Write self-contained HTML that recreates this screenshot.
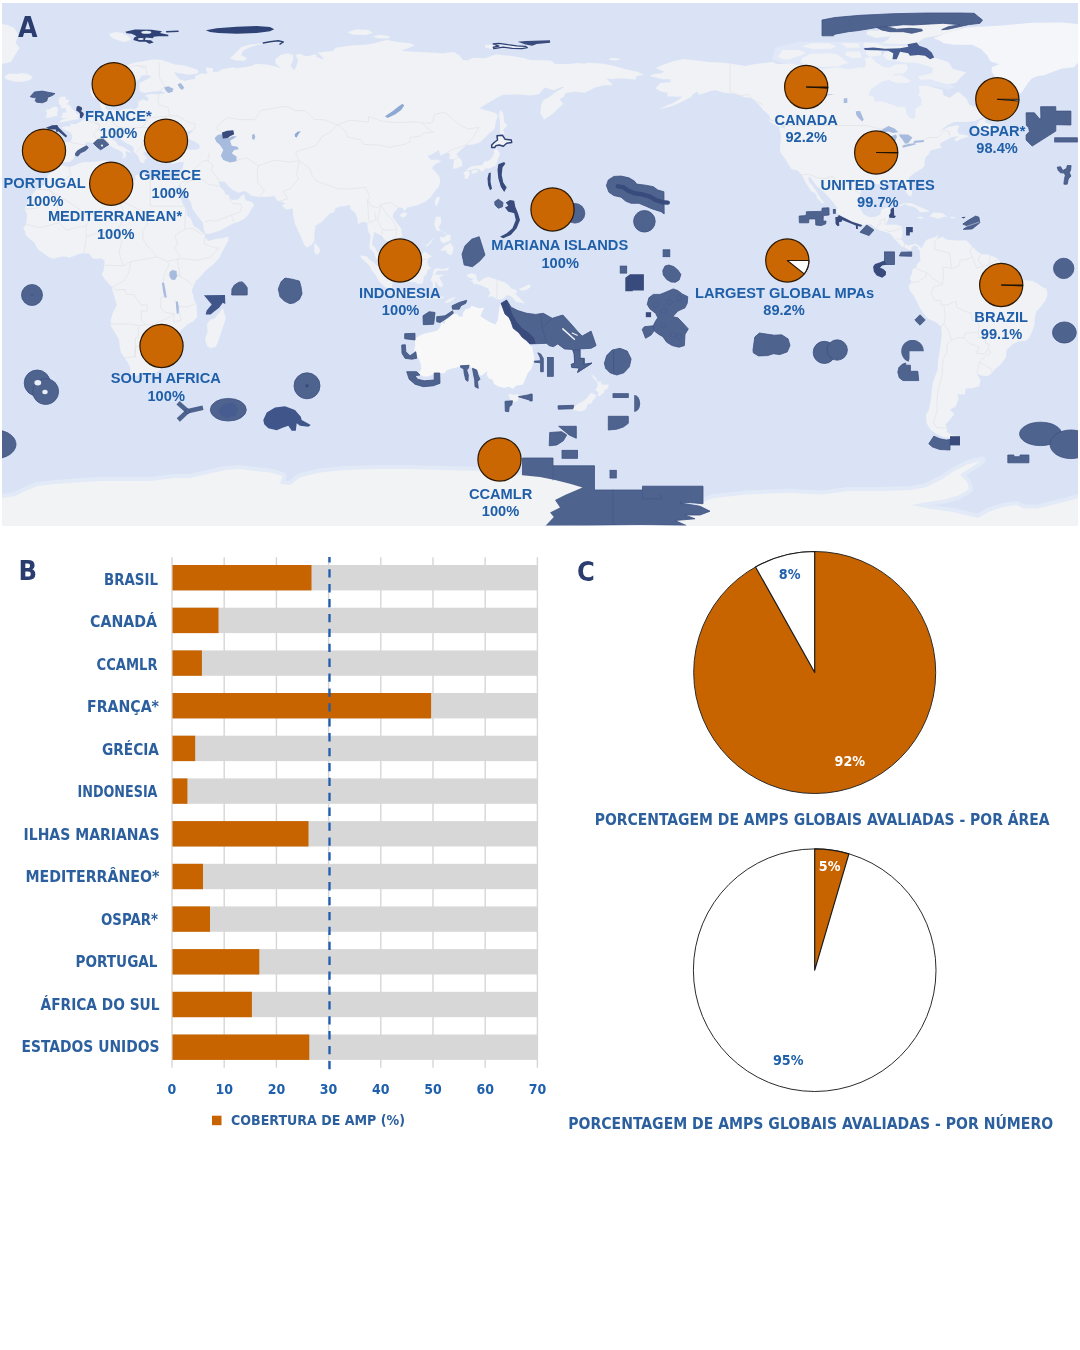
<!DOCTYPE html>
<html lang="pt"><head><meta charset="utf-8"><title>AMP</title>
<style>html,body{margin:0;padding:0;background:#fff}body{width:1080px;height:1350px;overflow:hidden;position:relative}svg{position:absolute;left:0;top:0;display:block}.ml{font-family:"Liberation Sans",Arial,sans-serif;font-weight:700;font-size:14.65px;fill:#1f5fa9;text-anchor:middle}.cl{font-family:"DejaVu Sans Condensed","Liberation Sans",sans-serif;font-weight:700;fill:#2c5f9e}</style></head><body>
<svg width="1080" height="1350" viewBox="0 0 1080 1350">
<defs><clipPath id="mc"><rect x="2" y="3" width="1076" height="522.5"/></clipPath><filter id="bl" x="-2%" y="-2%" width="104%" height="104%"><feGaussianBlur stdDeviation="0.7"/></filter></defs>
<rect x="0" y="0" width="1080" height="1350" fill="#fff"/>
<g clip-path="url(#mc)">
<rect x="0" y="0" width="1080" height="530" fill="#d9e3f5"/>
<g filter="url(#bl)">
<path d="M866.1 92.7L870.6 100.1L882.6 104.6L897.5 109.1L905.0 110.6L905.0 119.6L915.4 121.1L918.4 113.6L924.4 104.6L924.4 95.6L921.4 85.2L936.4 86.7L948.3 89.7L954.3 86.7L942.3 80.7L927.4 77.7L936.4 68.7L921.4 61.3L888.5 59.8L876.6 49.3L912.4 50.2L915.4 43.3L888.5 41.8L852.7 41.8L798.9 41.8L775.0 47.8L772.0 59.8L792.9 65.8L822.8 70.2L852.7 71.7L873.6 71.7L888.5 77.7L873.6 83.7Z" fill="#e1e8f7"/>
<path d="M933.4 38.3L948.3 32.3L966.3 27.5L1002.1 25.4L1032.0 22.7L1061.9 22.4L1078.0 23.9L1078.0 62.8L1073.9 67.3L1061.9 68.4L1052.9 71.7L1044.0 75.3L1038.0 75.9L1032.0 78.3L1027.5 83.7L1023.6 89.7L1021.5 92.7L1017.1 92.7L1011.1 90.3L1005.1 87.3L1000.6 82.2L996.1 77.7L991.7 72.3L991.7 67.3L999.1 64.3L990.2 61.3L987.2 55.3L981.2 49.3L972.2 44.8L954.3 44.8L943.8 43.3L939.4 40.4Z" fill="#f5f6f9"/>
<path d="M152.6 59.5L160.7 59.8L168.2 61.9L174.2 64.6L183.1 65.2L196.6 69.3L199.0 71.7L196.6 73.8L189.1 74.7L180.1 73.2L174.2 72.3L175.7 74.7L179.5 79.2L184.6 81.0L189.1 79.8L195.1 78.9L195.1 75.9L201.1 73.5L207.6 73.8L206.4 70.8L205.6 67.3L213.0 68.2L213.0 71.7L217.5 72.0L222.0 69.3L233.9 67.3L236.9 68.2L245.9 67.0L251.9 65.8L256.4 63.7L266.8 64.6L275.8 66.4L281.2 68.2L275.8 64.0L275.2 59.8L280.3 55.0L287.7 53.2L293.1 55.0L293.1 59.8L290.7 65.8L293.7 70.2L296.1 67.3L298.2 59.8L295.2 55.3L299.7 53.8L305.7 56.2L308.7 55.9L316.1 54.1L316.7 56.8L323.6 59.8L322.1 56.8L317.6 52.6L332.6 51.1L335.6 47.8L350.5 45.4L365.5 44.8L374.4 43.3L387.3 39.8L395.4 41.8L410.3 43.3L414.8 45.4L401.3 50.8L410.3 51.4L428.2 52.6L443.2 53.2L453.6 52.0L459.6 55.3L462.6 59.8L467.1 60.4L473.1 57.7L485.0 58.3L494.0 55.0L497.0 54.4L511.9 55.9L523.9 58.0L529.9 60.1L550.8 60.4L555.3 64.0L568.7 64.0L577.7 63.1L585.2 63.7L586.6 62.8L601.6 63.4L613.5 65.8L625.5 69.3L637.5 71.7L644.0 74.7L636.0 76.2L636.0 79.5L621.0 78.3L610.6 79.2L606.1 78.6L612.1 83.7L612.1 85.2L604.6 85.2L595.6 87.3L585.2 92.7L574.7 91.8L565.7 93.0L563.6 97.1L559.7 99.2L563.3 104.0L559.1 107.6L553.8 113.0L549.0 116.6L543.9 119.6L540.3 113.6L541.2 104.6L543.3 100.1L549.3 97.1L556.8 91.2L564.2 87.3L562.1 86.7L553.8 90.3L544.8 87.6L538.8 94.2L529.9 95.6L519.4 94.5L503.0 94.8L495.5 98.6L488.0 103.1L479.6 108.2L486.5 110.6L489.5 111.2L495.5 113.0L497.9 115.7L495.5 122.6L494.9 128.5L488.0 134.5L480.5 142.0L473.1 144.4L466.5 145.0L463.2 148.0L458.1 152.4L456.6 154.5L462.3 161.4L462.0 165.9L456.6 168.3L453.0 168.9L453.6 162.9L454.5 159.3L449.2 159.0L450.1 153.9L447.1 152.7L440.2 155.4L438.7 150.0L431.2 154.8L427.3 156.0L431.2 159.9L437.2 159.6L441.7 161.4L435.7 163.8L431.8 168.0L435.7 171.9L439.6 176.9L440.2 182.3L438.7 186.8L434.2 191.9L431.2 196.7L425.2 201.8L417.2 205.3L407.3 207.7L404.3 211.3L402.8 207.7L398.3 207.4L393.9 212.8L392.4 216.7L396.8 222.7L401.3 228.7L402.2 236.1L395.4 240.6L389.4 246.0L388.8 242.1L384.9 240.3L381.9 236.1L377.4 233.7L374.4 231.9L372.9 239.1L372.0 244.2L375.3 248.1L376.8 251.7L381.3 253.5L384.6 258.5L384.9 263.6L387.0 267.8L384.6 268.1L378.3 263.3L375.6 257.1L373.5 252.3L369.3 248.1L369.9 242.1L370.5 236.1L367.9 230.2L367.3 222.7L362.5 221.8L358.0 224.2L357.4 218.2L355.0 212.8L350.5 209.2L349.9 204.7L345.4 206.2L341.6 206.2L335.6 208.0L334.1 212.2L329.6 213.7L322.1 221.8L315.5 225.7L314.6 231.6L314.1 241.2L311.7 244.5L307.2 247.8L304.2 245.1L301.2 237.6L299.1 233.1L295.2 224.2L293.1 215.2L292.8 209.2L292.2 208.6L286.3 209.8L281.8 205.3L285.7 203.3L281.2 201.8L277.0 200.6L274.3 196.1L268.3 196.7L259.4 197.0L251.3 195.8L246.5 191.9L244.4 191.0L238.4 192.8L232.5 189.8L228.0 185.9L225.6 182.3L221.7 181.4L219.0 182.3L219.9 186.8L224.4 191.3L225.6 194.9L228.0 194.6L229.8 197.3L228.6 198.8L232.5 199.7L237.5 199.7L242.3 195.2L243.8 193.7L244.7 197.3L245.9 200.6L251.0 201.5L254.3 204.7L250.4 211.0L248.0 215.2L244.4 218.5L239.9 221.2L231.6 224.2L221.1 230.2L210.0 233.7L205.6 234.0L203.5 228.7L202.9 222.7L198.1 216.7L192.7 209.2L190.6 201.8L186.7 196.7L181.6 188.3L179.5 184.1L178.1 188.9L174.8 186.5L173.0 182.6L172.1 178.7L177.8 178.4L180.1 174.0L182.8 167.4L183.7 162.0L178.9 162.3L172.7 164.1L167.0 162.0L162.5 163.5L157.4 161.4L154.1 157.5L156.2 153.9L153.8 152.4L153.2 150.3L150.3 149.7L147.3 150.3L146.7 152.4L143.7 151.2L143.4 154.5L144.9 155.4L147.3 158.4L144.9 159.0L144.6 160.2L144.3 162.9L142.5 162.9L140.4 162.0L138.9 159.0L138.9 157.5L137.7 155.7L135.3 153.3L133.5 151.2L133.8 147.7L130.8 145.3L126.9 143.5L121.9 140.5L118.9 136.9L116.5 135.7L112.6 136.6L112.3 139.6L115.9 141.7L118.0 145.3L123.4 147.1L130.5 151.8L130.5 153.0L126.3 150.9L125.1 153.3L126.6 155.4L124.8 157.2L122.5 158.7L122.5 157.8L123.4 155.4L121.9 152.1L118.9 150.3L114.4 148.6L111.4 146.5L106.9 143.5L105.4 140.5L101.8 139.3L97.9 141.1L93.5 143.2L89.0 142.3L86.0 142.6L84.8 145.3L85.1 147.1L81.5 148.6L77.9 149.5L75.5 153.0L74.6 156.0L73.4 159.0L69.6 162.0L62.1 162.3L59.4 164.1L56.7 162.6L53.4 160.8L48.9 161.4L49.2 156.9L47.1 156.0L49.2 150.9L49.2 146.5L47.7 143.5L51.6 141.4L59.1 141.7L65.1 142.0L70.1 142.3L71.9 139.0L72.2 135.1L69.0 131.5L62.7 129.1L61.5 127.3L66.6 126.1L70.7 126.4L70.1 123.4L72.2 124.3L76.1 124.0L80.0 122.0L83.0 119.3L86.3 118.4L89.0 115.7L89.9 113.6L93.5 112.4L97.1 111.8L100.9 111.5L101.5 109.1L100.0 106.1L100.0 101.6L104.8 100.1L106.9 99.8L106.3 103.1L107.8 103.7L105.4 106.7L105.4 109.1L108.4 110.6L112.9 109.7L118.0 110.9L124.8 109.1L130.8 108.5L134.7 109.4L138.3 107.0L138.3 101.6L142.8 99.5L147.9 101.3L148.2 97.7L145.8 96.2L145.8 94.8L151.7 93.9L159.2 94.2L165.8 93.0L160.7 90.9L153.2 91.5L144.3 93.0L139.8 90.9L139.2 86.7L139.8 83.1L149.4 78.0L151.2 75.9L147.3 75.3L141.9 75.6L139.2 79.2L133.8 82.2L127.8 85.2L126.9 89.7L131.4 92.7L128.7 96.2L125.1 98.6L124.5 102.8L122.8 104.3L118.3 104.6L114.1 106.4L113.5 104.0L111.4 100.7L109.0 97.1L107.2 94.2L106.0 95.6L100.9 98.0L96.5 98.6L92.3 96.8L90.5 92.7L90.5 88.2L94.4 84.6L100.9 82.2L106.9 79.2L112.9 74.7L117.4 70.8L121.9 67.9L127.8 64.9L133.8 62.8L142.8 61.3Z" fill="#f0f2f5"/>
<path d="M57.9 165.0L59.7 164.7L66.6 166.5L69.6 167.1L75.5 165.0L80.0 162.9L84.5 162.0L90.5 162.0L96.5 161.4L102.4 160.8L105.4 160.5L108.4 161.4L106.9 163.2L107.2 165.9L105.4 169.5L108.4 171.6L112.9 174.0L120.4 175.5L122.5 178.1L129.3 180.8L133.8 181.4L135.3 179.3L135.3 175.5L139.8 173.7L144.3 174.6L150.3 177.2L156.2 178.4L162.2 179.6L168.2 177.8L172.1 178.7L173.0 182.6L175.7 188.3L177.2 191.3L181.6 200.3L182.5 203.3L186.1 209.2L187.0 215.2L190.6 218.2L193.6 225.7L198.1 228.7L204.7 234.6L205.0 237.6L208.5 240.9L216.0 238.8L222.0 238.2L228.6 236.4L228.3 240.6L223.5 249.6L219.0 258.5L213.0 264.8L205.6 270.5L199.9 277.4L195.7 281.0L193.6 286.0L191.5 291.4L193.3 294.4L193.6 298.9L196.3 303.4L196.9 310.9L197.2 316.8L193.6 321.3L187.6 324.3L183.1 328.5L179.5 331.5L181.3 337.8L181.6 343.7L175.7 347.6L173.6 349.7L173.9 354.2L172.4 357.8L168.2 361.7L165.2 365.6L160.1 369.7L156.2 372.7L152.0 373.6L142.8 373.9L135.3 376.0L130.8 374.5L130.2 370.0L129.9 366.2L126.3 360.2L124.5 357.5L121.0 352.7L119.8 346.7L118.9 339.3L115.3 333.3L110.8 325.8L110.8 319.8L112.9 312.4L116.8 304.9L115.0 298.9L112.3 289.9L112.0 286.9L108.4 283.4L103.9 278.0L101.8 274.1L103.6 270.5L104.2 265.4L104.8 261.5L102.1 258.5L96.5 258.8L92.9 258.8L89.0 253.5L83.0 253.2L79.1 254.1L74.0 255.9L69.6 257.7L66.6 256.8L62.1 256.5L53.1 258.8L48.6 257.1L43.2 252.9L38.2 249.6L35.8 245.7L34.6 242.7L30.7 239.7L25.6 234.9L25.3 231.9L23.2 228.1L26.2 224.2L26.8 218.2L27.1 214.3L24.7 209.2L27.7 201.8L31.3 195.8L36.7 189.2L41.2 186.8L45.6 183.8L46.5 179.3L48.0 174.9L53.1 171.6L56.1 168.9Z" fill="#f0f2f5"/>
<path d="M649.4 75.9L653.9 74.1L661.4 73.2L664.4 71.7L655.4 67.9L664.4 64.3L673.3 61.3L683.8 58.9L697.2 60.4L709.2 61.9L724.1 62.8L733.1 64.0L745.1 66.1L754.0 64.3L766.0 62.8L772.0 61.9L777.9 64.3L789.9 63.4L801.9 65.8L810.8 67.9L822.8 69.0L828.8 68.2L837.7 67.6L849.7 69.3L858.6 67.3L864.6 67.9L866.1 64.3L864.6 58.3L870.6 56.8L876.6 62.8L882.6 66.4L888.5 67.9L896.0 64.3L906.5 64.3L908.0 68.7L903.5 73.8L894.5 73.8L891.5 79.2L882.6 81.3L876.6 85.2L870.6 89.7L868.5 95.6L873.6 96.5L875.1 101.6L882.6 101.6L891.5 104.6L897.5 106.7L905.6 107.3L906.5 113.6L909.5 118.1L913.3 119.0L915.4 116.6L915.4 109.1L921.4 104.6L921.4 98.6L918.4 95.6L919.9 91.2L918.4 85.8L927.4 85.8L936.4 88.2L942.3 89.7L943.8 95.6L949.8 97.7L955.8 93.3L958.8 91.8L966.3 98.6L969.2 104.6L978.2 108.2L984.2 112.1L984.8 116.6L981.2 118.1L975.2 121.1L966.3 122.0L954.3 122.0L946.8 125.5L939.4 131.8L948.3 127.0L957.3 124.9L959.4 126.4L957.3 130.0L958.8 133.9L966.3 135.1L969.2 136.6L961.8 138.7L955.8 141.7L954.3 139.0L958.8 136.0L951.3 137.5L945.3 140.5L940.8 142.9L939.9 145.0L942.3 147.4L936.4 148.9L930.4 150.6L928.9 154.2L925.9 156.9L924.4 161.4L925.0 164.4L922.9 168.0L918.4 170.7L913.9 173.4L909.5 176.9L908.3 180.8L911.0 187.7L912.2 192.8L911.0 196.7L908.0 194.9L904.4 189.5L904.4 185.3L900.5 182.3L896.0 182.9L891.5 181.1L885.5 181.4L884.1 184.4L879.6 184.4L872.1 183.2L867.6 184.7L861.6 188.3L860.4 194.3L859.2 201.8L859.5 206.8L863.1 213.7L867.6 216.4L870.6 217.3L876.6 216.4L880.2 214.3L881.4 209.2L887.0 207.7L891.5 208.0L890.0 213.7L888.5 218.8L886.1 224.5L890.0 224.8L896.0 224.5L902.0 226.6L902.6 233.1L901.4 239.1L904.1 243.3L908.0 245.4L912.4 244.5L915.4 243.6L919.9 246.3L921.4 248.4L922.9 245.7L925.9 240.3L929.8 238.5L936.4 236.7L937.9 234.9L937.9 239.1L942.3 236.7L946.8 239.7L954.3 240.3L960.3 240.6L966.3 240.3L969.2 243.0L972.2 246.6L976.7 251.1L981.2 254.1L988.7 254.7L996.1 257.7L999.1 260.0L1002.1 266.6L1000.6 272.0L1006.6 274.4L1011.1 274.1L1018.6 278.9L1026.0 280.4L1032.0 280.7L1038.0 283.7L1042.5 287.2L1046.4 288.4L1047.6 294.4L1045.5 300.4L1041.0 306.4L1036.5 310.9L1035.0 316.8L1034.4 325.2L1032.0 331.8L1029.0 337.8L1026.0 340.7L1018.6 341.3L1012.6 344.3L1006.6 349.7L1006.0 357.2L1000.6 364.7L995.5 368.5L991.7 373.6L987.2 376.3L981.2 375.4L977.0 373.6L980.6 380.5L979.1 386.2L972.2 388.3L965.7 388.6L964.8 394.5L957.3 394.5L958.8 399.0L957.3 402.0L955.8 406.5L949.8 409.5L954.3 414.0L949.8 420.0L945.3 424.4L947.1 428.6L946.8 431.9L952.8 435.2L956.7 435.8L951.3 437.9L943.8 437.3L936.4 434.0L930.4 429.8L926.5 422.9L925.9 415.5L928.9 409.5L930.4 403.5L931.0 397.5L931.9 390.1L932.8 383.2L934.9 376.6L937.6 370.6L937.9 361.7L939.4 352.7L940.8 343.7L941.7 334.8L941.1 326.7L936.4 322.8L927.4 318.3L923.5 313.2L919.9 307.9L916.9 301.9L913.9 295.9L909.5 289.9L908.6 285.5L911.6 282.2L909.8 278.6L911.9 273.5L912.4 269.6L916.0 267.5L916.9 264.5L920.5 260.6L919.9 255.6L919.9 251.1L917.8 248.7L917.8 246.6L913.9 245.4L911.6 247.5L911.0 250.2L908.0 249.3L904.1 247.5L901.4 246.3L897.5 242.1L895.1 239.7L890.0 233.4L887.0 232.5L881.1 230.8L876.0 228.7L870.6 223.9L863.1 225.1L857.2 223.3L851.2 221.2L846.7 218.5L840.7 215.8L836.2 212.2L836.8 207.7L833.8 203.3L828.8 197.3L824.6 192.8L821.3 189.8L816.8 185.9L813.8 182.3L810.8 178.1L808.4 176.9L808.7 180.8L812.3 185.3L815.3 189.8L818.3 194.3L821.9 200.3L824.3 202.7L822.2 203.3L816.8 197.9L816.2 194.3L810.8 190.7L809.3 188.3L805.4 182.3L801.9 174.9L797.4 170.4L791.4 168.9L787.5 162.9L785.4 159.0L781.5 153.9L780.0 151.2L780.3 145.0L780.9 139.0L780.9 133.9L778.8 127.3L783.9 127.9L785.4 130.0L784.5 125.5L779.4 122.6L770.5 119.6L769.0 115.1L763.0 110.0L761.5 107.6L757.0 103.1L751.0 98.0L743.6 97.1L740.6 95.6L733.1 93.6L724.1 92.7L715.2 90.3L709.2 91.2L706.2 92.7L698.7 94.8L697.2 91.2L700.2 89.7L692.8 94.2L691.3 97.1L683.8 100.7L677.8 103.7L670.3 106.7L662.9 108.2L659.0 109.1L667.4 105.2L673.3 103.1L679.3 99.2L682.3 96.5L676.9 96.8L671.8 96.2L667.4 96.8L667.4 92.7L659.9 91.2L655.4 88.2L658.4 85.2L659.9 83.1L670.3 82.2L670.3 79.2L662.9 79.2L653.9 77.1Z" fill="#f0f2f5"/>
<path d="M222.9 307.9L225.9 318.3L224.4 322.8L222.0 330.3L218.4 340.7L216.0 346.7L210.6 348.2L207.0 346.1L205.0 339.3L207.6 331.8L207.0 324.3L210.0 319.8L214.5 318.6L219.0 313.2Z" fill="#f0f2f5"/>
<path d="M58.5 122.6L65.1 121.7L71.0 120.5L79.4 119.0L77.9 117.8L80.6 114.8L76.4 113.6L75.5 111.5L71.9 108.8L70.4 105.8L67.2 104.3L69.6 99.8L65.1 99.5L66.3 96.8L60.6 96.8L58.5 100.1L59.1 104.0L61.2 106.1L60.6 108.2L65.1 107.9L66.6 111.2L66.0 112.4L62.1 112.7L63.0 114.5L61.5 116.6L60.0 117.2L65.1 118.4L66.6 118.7L62.1 119.6Z" fill="#f0f2f5"/>
<path d="M57.6 116.0L57.0 112.7L58.2 109.7L57.0 107.0L53.1 106.7L50.1 109.1L45.6 110.0L47.1 113.0L46.2 116.0L45.0 117.2L48.6 118.1L53.1 116.6Z" fill="#f0f2f5"/>
<path d="M229.5 58.3L235.4 60.4L244.4 60.7L247.4 58.3L241.4 55.3L242.9 50.8L248.9 47.8L257.9 44.8L269.8 43.3L280.3 42.1L272.8 41.8L260.8 43.3L248.9 44.8L241.4 46.9L236.9 51.4L233.9 54.7Z" fill="#f0f2f5"/>
<path d="M347.5 32.3L356.5 29.3L368.5 29.9L372.9 32.9L365.5 35.0L353.5 34.7Z" fill="#f0f2f5"/>
<path d="M372.9 35.9L380.4 34.7L390.3 36.5L387.9 38.6L377.4 38.3Z" fill="#f0f2f5"/>
<path d="M500.0 109.7L503.0 112.7L503.9 118.1L504.5 122.6L507.4 125.5L503.0 130.0L504.5 133.9L500.0 134.5L500.0 128.5L500.0 122.6L499.1 116.6L499.4 112.1Z" fill="#f0f2f5"/>
<path d="M493.7 145.0L495.2 142.6L498.8 136.6L500.0 136.0L504.5 139.6L509.8 139.6L510.4 142.6L505.9 143.8L503.6 146.5L499.4 144.7L497.0 145.6L497.0 147.4L494.6 148.0Z" fill="#f0f2f5"/>
<path d="M496.7 148.3L498.5 150.9L500.0 153.9L498.5 157.5L497.0 161.4L496.4 165.0L494.0 166.8L493.1 166.2L490.4 168.3L485.0 168.6L484.4 169.5L482.0 171.9L479.6 169.5L476.1 168.6L471.6 169.8L467.1 170.4L466.8 169.2L471.6 166.2L476.1 165.6L482.0 165.3L484.4 161.4L485.9 159.9L485.0 162.0L489.5 160.2L492.5 156.9L494.0 153.0L494.0 150.3L494.9 148.9Z" fill="#f0f2f5"/>
<path d="M466.8 170.7L469.2 171.6L470.1 174.0L468.0 178.1L466.2 179.3L464.7 178.4L465.0 174.9L463.2 173.4L464.1 171.9Z" fill="#f0f2f5"/>
<path d="M471.6 170.4L477.5 169.8L478.1 171.0L476.7 172.5L473.1 174.0L471.3 172.5Z" fill="#f0f2f5"/>
<path d="M437.2 196.7L440.2 197.3L438.7 201.8L436.6 206.2L434.8 203.9L434.8 200.9Z" fill="#f0f2f5"/>
<path d="M400.4 214.3L404.3 212.2L407.3 213.4L405.5 216.4L402.2 217.6L400.4 216.1Z" fill="#f0f2f5"/>
<path d="M314.6 242.7L318.2 246.6L320.3 250.5L319.1 253.2L316.1 254.4L314.4 252.6L314.1 248.1Z" fill="#f0f2f5"/>
<path d="M360.4 255.3L367.0 256.5L369.3 259.4L373.8 262.4L376.8 265.4L381.3 269.0L385.5 272.0L387.9 277.4L392.4 281.0L392.1 289.3L387.9 289.3L383.4 285.5L378.9 281.0L375.6 275.0L371.7 270.5L369.9 266.6L366.1 262.4L361.0 257.7Z" fill="#f0f2f5"/>
<path d="M390.3 292.3L393.9 289.9L399.8 291.7L405.8 291.7L407.3 291.4L412.4 292.9L417.8 295.3L417.5 298.0L411.8 297.1L404.3 296.2L398.3 295.3L393.9 294.1Z" fill="#f0f2f5"/>
<path d="M419.3 296.5L425.2 296.5L431.2 296.8L431.2 298.6L425.2 298.9L419.3 298.3Z" fill="#f0f2f5"/>
<path d="M433.6 297.1L438.7 297.1L443.2 296.5L443.2 298.3L437.2 298.6L433.6 298.3Z" fill="#f0f2f5"/>
<path d="M444.7 302.8L447.7 299.8L452.1 297.7L456.0 297.1L453.6 299.5L449.2 302.2L446.2 303.1Z" fill="#f0f2f5"/>
<path d="M401.3 267.5L403.1 266.0L408.2 263.9L413.3 262.4L416.3 258.5L420.8 255.6L424.6 251.4L427.3 253.2L431.8 256.2L428.2 258.8L427.3 262.4L428.2 265.4L431.2 269.0L427.6 269.6L426.7 274.1L423.7 276.5L423.2 281.0L422.3 283.4L418.4 284.0L414.8 281.9L410.3 282.2L407.3 281.0L404.9 279.5L404.3 275.9L401.9 273.5L401.3 270.5Z" fill="#f0f2f5"/>
<path d="M433.6 269.6L436.6 268.1L443.2 269.3L449.2 267.2L447.7 270.5L443.2 270.8L437.2 270.8L434.8 274.4L438.7 274.7L443.8 274.4L443.2 275.6L439.3 277.4L441.1 281.0L443.2 284.0L441.7 287.8L438.7 286.0L437.2 283.4L435.4 281.0L435.1 288.4L432.7 288.4L432.7 282.5L430.6 280.1L432.7 275.0Z" fill="#f0f2f5"/>
<path d="M440.2 251.1L444.7 246.0L450.6 242.7L453.6 248.1L452.7 253.2L450.6 255.3L446.8 253.2L446.2 250.5Z" fill="#f0f2f5"/>
<path d="M435.7 216.7L440.8 216.7L441.1 222.7L438.7 227.2L440.2 230.2L446.2 233.1L445.6 234.0L442.6 231.1L437.2 231.1L435.7 228.7L434.2 224.2L435.1 220.3Z" fill="#f0f2f5"/>
<path d="M440.2 236.7L443.8 237.6L447.7 234.6L450.6 234.9L450.6 239.1L449.2 241.5L446.2 242.1L444.1 243.6L441.7 242.1L440.2 240.6Z" fill="#f0f2f5"/>
<path d="M426.1 246.9L429.7 244.2L432.7 240.3L433.0 238.2L431.2 240.6L428.2 243.6L425.8 245.7Z" fill="#f0f2f5"/>
<path d="M467.1 274.4L471.6 273.2L476.1 274.4L476.7 279.5L479.0 281.9L483.5 278.6L488.0 276.8L497.0 279.8L504.5 282.2L508.9 285.2L511.3 288.4L516.4 289.9L517.3 292.6L514.9 292.9L517.9 296.2L522.4 300.7L525.4 303.4L520.9 302.8L516.4 301.9L511.9 296.8L507.4 295.0L504.5 297.4L501.5 299.5L497.0 299.2L492.5 296.2L488.0 296.8L490.4 292.9L488.0 288.4L482.0 285.7L476.1 283.7L473.1 284.0L472.5 281.0L470.1 280.4L474.6 278.9L470.1 278.0L466.8 276.2Z" fill="#f0f2f5"/>
<path d="M518.8 288.7L523.9 286.9L528.4 284.6L530.8 284.9L529.9 287.8L525.4 290.5L520.9 290.5Z" fill="#f0f2f5"/>
<path d="M508.0 393.7L513.4 394.8L518.5 394.0L518.8 397.5L517.6 401.1L513.4 402.3L510.4 399.9L508.9 396.0Z" fill="#f0f2f5"/>
<path d="M591.7 374.8L595.6 377.5L598.0 382.0L601.0 381.4L601.6 384.4L607.6 384.4L609.1 384.7L607.3 388.9L604.6 389.8L604.0 392.5L599.5 396.3L597.7 395.4L598.6 392.2L595.0 389.8L597.4 387.4L597.7 384.1L596.2 381.1L592.6 377.2Z" fill="#f0f2f5"/>
<path d="M591.7 393.1L596.2 395.1L595.6 397.5L592.6 400.5L592.0 402.9L587.5 404.4L586.1 408.9L582.2 411.3L578.6 411.3L573.8 410.1L573.2 408.0L577.7 404.1L583.7 400.8L587.5 397.5L589.6 394.0Z" fill="#f0f2f5"/>
<path d="M897.5 206.5L903.5 203.3L911.0 203.0L919.9 207.1L927.4 210.1L929.8 211.6L919.9 212.5L918.4 210.1L915.4 207.4L908.0 205.6L905.0 204.1L900.5 206.2Z" fill="#f0f2f5"/>
<path d="M929.2 216.4L933.4 212.5L937.3 212.8L942.3 213.1L947.1 216.4L942.3 217.3L937.9 219.1L934.9 217.6Z" fill="#f0f2f5"/>
<path d="M917.5 217.0L921.4 216.7L923.8 218.2L920.8 218.8L917.5 217.9Z" fill="#f0f2f5"/>
<path d="M950.7 216.7L955.2 217.0L954.9 218.2L950.7 218.2Z" fill="#f0f2f5"/>
<path d="M974.3 129.4L979.7 120.5L984.8 117.8L985.7 122.6L991.7 124.6L994.0 129.7L991.7 132.7L985.7 131.8L984.2 129.7Z" fill="#f0f2f5"/>
<path d="M768.1 120.2L775.0 121.4L779.4 124.0L782.7 127.3L778.5 126.7L773.5 124.0Z" fill="#f0f2f5"/>
<path d="M912.4 51.7L924.4 54.4L936.4 58.3L948.3 61.9L952.8 68.7L966.3 72.6L960.3 77.7L955.8 83.1L948.3 84.3L939.4 82.2L930.4 79.2L919.9 79.8L918.4 76.2L931.9 73.2L933.4 67.9L921.4 64.3L915.4 62.8L906.5 62.8L897.5 61.3L887.0 59.8L882.6 55.3L885.5 51.4L897.5 51.4Z" fill="#f0f2f5"/>
<path d="M801.9 58.3L810.8 53.8L828.8 53.2L837.7 54.4L848.2 62.8L837.7 66.4L822.8 67.0L810.8 65.8L800.4 62.8Z" fill="#f0f2f5"/>
<path d="M777.9 57.1L782.4 49.9L798.9 49.9L806.3 52.9L798.9 55.9L789.9 59.2L783.9 59.5Z" fill="#f0f2f5"/>
<path d="M882.6 43.3L897.5 43.9L915.4 44.2L924.4 38.0L936.4 35.9L954.3 30.8L966.3 25.7L942.3 23.6L912.4 23.9L882.6 27.8L876.6 32.0L891.5 34.4L888.5 38.9Z" fill="#f0f2f5"/>
<path d="M864.6 42.4L876.6 43.0L884.1 46.3L911.0 46.0L912.4 49.0L876.6 49.0L863.1 46.3Z" fill="#f0f2f5"/>
<path d="M801.9 46.3L810.8 43.3L828.8 43.3L836.2 46.3L831.7 48.4L813.8 49.3Z" fill="#f0f2f5"/>
<path d="M840.7 43.3L858.6 43.3L860.1 47.8L846.7 47.8Z" fill="#f0f2f5"/>
<path d="M846.7 51.4L860.1 51.4L861.6 57.7L852.7 58.3L845.2 55.3Z" fill="#f0f2f5"/>
<path d="M866.1 50.8L881.1 50.8L881.1 55.3L870.6 56.8L866.1 54.4Z" fill="#f0f2f5"/>
<path d="M867.6 30.5L888.5 31.4L891.5 35.9L876.6 38.0L866.1 34.4Z" fill="#f0f2f5"/>
<path d="M891.5 76.2L900.5 74.7L911.0 80.7L908.0 82.8L897.5 83.1L890.0 80.7Z" fill="#f0f2f5"/>
<path d="M485.0 45.1L497.0 44.2L511.9 46.3L525.4 47.2L520.9 48.7L503.0 48.1L491.0 49.0L485.0 47.2Z" fill="#f0f2f5"/>
<path d="M609.1 58.3L616.5 58.0L621.0 59.2L616.5 60.4L610.0 60.1Z" fill="#f0f2f5"/>
<path d="M2.0 498.0L15.0 496.0L25.0 491.0L37.5 486.0L55.0 484.0L75.0 482.5L100.0 481.0L125.0 481.0L150.0 481.0L175.0 478.0L190.0 478.0L207.5 474.0L225.0 470.0L240.0 469.0L255.0 471.0L270.0 472.5L282.5 476.0L280.0 484.0L290.0 485.0L300.0 477.5L320.0 472.5L345.0 470.0L375.0 469.0L410.0 469.0L445.0 470.0L477.0 471.0L540.0 477.0L555.0 480.0L570.0 484.0L582.0 487.5L565.0 495.0L555.0 500.0L560.0 507.5L550.0 512.5L560.0 520.0L600.0 524.0L650.0 522.0L690.0 512.0L700.0 503.0L714.0 498.0L746.0 494.5L788.0 492.8L823.0 494.5L848.0 491.0L883.0 491.0L911.0 490.0L925.0 487.5L943.0 478.7L953.0 471.7L967.0 464.6L981.5 460.4L971.0 467.4L960.0 474.5L967.0 482.0L969.0 489.0L958.6 495.6L943.0 499.8L925.0 502.6L911.0 505.0L928.7 508.6L953.0 512.0L978.0 518.0L988.5 512.0L1002.6 506.9L1016.7 505.0L1023.7 508.6L1037.8 508.6L1052.0 505.0L1066.0 501.6L1078.0 498.0L1078.0 527.0L2.0 527.0Z" fill="#f2f3f4" stroke="#e2e9f7" stroke-width="8" stroke-linejoin="round" paint-order="stroke"/>
<path d="M2.0 24.0L7.4 25.0L14.0 27.8L18.5 35.0L15.7 42.6L19.4 48.0L14.8 55.5L11.0 62.0L2.0 64.0Z" fill="#f0f2f5"/>
<path d="M5.0 76.0L9.0 73.5L16.0 74.0L22.0 73.0L28.0 74.0L33.0 77.0L30.0 80.0L22.0 82.0L14.0 81.5L8.0 80.0L4.6 78.0Z" fill="#f0f2f5"/>
<path d="M109.0 34.0L115.0 32.0L122.0 33.0L128.0 36.0L131.0 40.0L124.0 42.0L117.0 40.0L112.0 38.0Z" fill="#f0f2f5"/>
<path d="M415.4 339.3L416.9 337.2L422.3 334.2L428.2 332.7L432.7 331.8L437.8 330.3L440.8 325.8L441.1 322.8L444.7 323.7L445.3 320.4L449.2 317.7L452.1 314.1L456.6 313.8L459.0 316.5L462.6 316.5L463.2 312.4L465.6 309.1L469.5 308.5L471.6 305.8L479.0 308.2L484.4 307.9L482.0 311.8L480.5 316.2L485.0 319.2L491.0 322.8L495.5 324.6L497.9 319.8L498.8 312.4L500.0 304.9L501.5 304.0L504.5 309.4L505.3 314.7L509.5 316.8L510.7 322.2L512.5 328.2L516.4 330.0L520.9 333.3L523.9 338.7L526.9 342.2L532.2 347.3L533.4 352.7L534.6 357.8L532.8 364.7L531.4 369.1L527.8 373.0L526.0 377.2L523.9 382.6L522.4 384.7L516.4 385.6L512.8 388.9L508.9 386.5L504.5 388.0L498.5 386.5L494.0 384.1L492.5 379.6L488.6 378.4L488.0 375.1L486.5 377.2L487.4 371.2L484.4 373.6L481.4 376.0L479.6 374.5L476.7 369.7L471.6 367.6L467.1 366.2L461.1 366.5L452.1 368.5L446.2 370.6L444.7 373.3L437.2 373.0L432.7 374.8L428.2 376.6L423.7 376.6L419.9 374.5L419.3 372.1L421.4 369.1L420.8 364.7L419.3 360.2L416.9 355.1L414.2 349.7L415.4 345.2L414.8 340.7Z" fill="#f8f8f9"/>
<g fill="none" stroke="#e1e3e7" stroke-width="0.7">
<path d="M730.1 64.0L730.1 91.8L740.6 95.9L748.1 94.2L752.5 99.2L763.0 104.9"/>
<path d="M783.9 125.5L867.0 125.5L878.1 128.5L887.0 127.9L899.0 133.0L905.0 136.6L905.3 143.5L903.5 146.5L915.4 144.1L915.4 142.0L922.9 140.5L928.3 137.5L937.9 137.5L942.3 133.0L945.3 130.3L948.9 131.5L950.1 136.9"/>
<path d="M801.6 174.9L808.7 174.3L819.8 178.4L828.2 178.4L828.2 176.9L833.2 176.9L839.2 183.5L843.7 185.3L845.8 182.9L849.7 183.5L854.2 189.8L861.0 194.6"/>
<path d="M876.0 228.7L878.1 224.2L881.4 223.9L879.6 220.6L885.0 218.8L885.0 224.5L887.6 225.1"/>
<path d="M885.0 229.0L889.1 231.9L892.4 230.8L895.4 230.5L902.9 227.2"/>
<path d="M895.4 238.8L898.4 239.1L901.4 239.4"/>
<path d="M903.8 247.8L904.7 243.6"/>
<path d="M997.3 259.4L988.7 265.1L982.7 266.3L976.7 268.1L972.2 256.5L967.7 259.1L960.3 260.0L958.8 266.0L951.9 268.4L942.9 266.9L943.8 275.0L942.3 284.6L933.4 286.9L931.0 293.8L934.9 300.4L940.8 300.4L940.5 304.9L943.8 304.9L946.8 304.9L956.4 301.3L956.4 307.0L966.3 311.8L971.3 312.9L972.2 320.4L977.6 320.7L979.1 325.8L978.2 331.8L978.8 337.8L985.1 338.7L985.7 343.7L989.3 344.0L988.4 348.5L990.8 353.3L984.8 356.6L979.4 362.3L984.2 364.7L991.7 369.1L992.0 372.7"/>
<path d="M951.3 340.1L946.8 345.2L946.8 352.7L943.2 358.7L942.3 367.6L942.3 375.1L939.9 382.6L937.9 391.6L937.0 400.5L937.3 409.5L934.9 418.5L933.4 422.9L936.4 427.4L946.8 428.3"/>
<path d="M938.5 236.7L934.9 242.1L934.9 249.6L942.3 251.1L949.8 253.5L951.3 266.0L951.9 268.4"/>
<path d="M972.2 256.5L969.8 251.1L972.2 246.9"/>
<path d="M980.6 254.4L978.2 260.0L982.7 266.3"/>
<path d="M990.2 255.0L988.7 265.1"/>
<path d="M916.0 267.8L921.4 271.1L926.5 272.3L925.9 276.5L918.4 281.6L911.9 282.5"/>
<path d="M926.5 272.3L933.4 278.9L942.3 284.6"/>
<path d="M941.1 326.7L943.8 324.3L945.3 318.3L943.8 304.9"/>
<path d="M943.8 324.3L948.3 330.3L951.3 340.1L957.3 337.8L963.9 337.8L965.4 333.3L977.6 332.1"/>
<path d="M963.9 337.8L969.2 343.1L979.1 347.3L976.4 353.3L984.8 353.9L988.4 348.5"/>
<path d="M979.4 362.3L977.0 373.3"/>
<path d="M150.3 177.5L150.3 206.2L185.8 206.2"/>
<path d="M150.3 212.2L147.3 213.7L123.4 201.8L120.4 203.3L111.4 201.8L105.4 198.8L103.9 192.8L104.8 181.4L109.9 172.8"/>
<path d="M69.0 167.1L71.0 175.5L65.1 179.3L49.5 186.2L49.5 190.4L61.2 197.3L79.1 208.9L85.1 213.7L88.1 214.9L93.5 213.7L111.4 201.8"/>
<path d="M49.5 190.4L36.7 189.2"/>
<path d="M49.5 190.4L56.1 197.3L59.1 222.7L39.7 227.8L26.2 224.2"/>
<path d="M24.7 209.2L36.7 208.3L39.7 201.8L49.5 194.3"/>
<path d="M88.1 214.9L88.1 222.7L86.0 226.0L77.0 227.2L66.6 230.2L59.1 222.7"/>
<path d="M86.0 226.0L86.3 237.0L83.9 253.2"/>
<path d="M86.3 237.0L96.5 233.1L105.4 232.2L115.9 231.1L118.9 233.7L121.9 242.1"/>
<path d="M120.4 203.3L123.4 210.7L121.9 222.7L115.9 231.1"/>
<path d="M147.3 213.7L147.3 225.1L142.8 230.2L142.8 239.1L147.3 246.0L157.4 257.1"/>
<path d="M121.9 242.1L118.9 252.6L123.4 266.0L131.1 261.5L142.8 259.4L157.4 257.1L167.6 261.2L177.2 259.4L183.1 258.8L198.1 260.3L201.1 259.4L210.0 257.1L219.0 248.1L216.0 248.1L204.1 243.9L204.7 237.6"/>
<path d="M185.8 206.2L184.6 229.3L174.8 235.5L177.5 243.6L174.2 248.7L180.1 255.9L177.2 259.4"/>
<path d="M184.6 229.3L192.1 228.1L202.3 234.6"/>
<path d="M123.4 266.0L114.4 265.4L109.3 265.4L104.8 265.1"/>
<path d="M131.1 261.5L128.4 273.5L123.4 281.0L112.9 286.9L114.7 289.6L125.1 289.6L126.3 294.4L133.8 294.4L141.3 304.9L147.3 304.9L147.3 310.9L141.3 310.9L141.3 319.8L145.5 324.6L150.9 325.2"/>
<path d="M167.6 261.2L168.8 265.4L164.0 275.0L162.8 285.2L167.3 296.5L161.0 297.1L160.4 307.3L164.6 312.1L174.2 313.8L166.4 318.9L150.9 325.2L156.2 325.8L163.4 338.4L168.8 339.0L171.2 349.7L173.9 352.1"/>
<path d="M177.2 259.4L180.1 275.0L177.2 275.0L166.7 275.0"/>
<path d="M177.2 275.0L188.2 281.0L192.7 286.0"/>
<path d="M178.6 306.4L187.6 307.0L196.3 303.4"/>
<path d="M173.9 300.1L178.6 306.4L181.0 320.4L173.6 321.9L174.2 313.8"/>
<path d="M110.8 323.7L117.4 324.0L130.8 324.0L139.5 325.8L145.5 324.6"/>
<path d="M135.3 356.9L135.3 337.8L138.3 337.8L138.3 326.7"/>
<path d="M124.8 357.5L135.3 356.9L135.3 346.1L143.4 347.9L151.7 348.8L156.2 342.5L163.4 338.4"/>
<path d="M337.1 124.9L350.5 120.2L368.5 122.0L368.5 116.6L381.9 121.1L395.4 122.6L416.3 122.0L425.2 123.4L432.7 122.6L434.2 114.5L444.7 112.1L456.6 122.6L467.1 129.1L479.0 127.3L473.1 137.5L467.1 143.5L465.9 145.0"/>
<path d="M338.0 125.2L346.0 131.5L347.5 136.9L361.0 139.9L364.0 144.4L378.9 145.0L389.4 147.4L404.3 144.4L410.3 141.4L409.7 137.5L420.8 136.0L423.7 133.0L433.6 132.4L427.6 128.5L422.3 123.1"/>
<path d="M337.1 124.9L323.6 119.6L314.6 119.6L305.7 110.6L295.2 110.6L287.7 106.7L281.8 106.7L260.8 110.6L254.9 119.6L239.9 119.6L228.0 117.5L220.5 122.6L216.0 128.5L222.0 133.0"/>
<path d="M337.1 124.9L331.1 131.5L322.1 136.6L315.5 145.9L296.7 151.5L295.8 154.2L299.4 160.8L310.2 168.9L311.7 174.9L317.6 181.7L338.6 188.9L350.5 188.9L365.5 187.4L369.9 197.3L367.6 200.3L371.4 206.2L378.0 207.7L380.4 204.7L390.3 202.4L398.3 207.4"/>
<path d="M279.4 201.2L287.7 198.8L283.3 191.3L290.7 188.3L298.2 179.3L296.7 173.4L299.4 160.8"/>
<path d="M259.7 196.7L264.4 190.7L257.9 182.9L257.3 170.4L258.5 165.6L274.3 160.2L289.2 162.0L299.4 160.8"/>
<path d="M209.4 153.3L207.6 160.8L213.0 165.0L211.5 170.4L220.5 182.3L219.0 182.3"/>
<path d="M258.5 165.6L246.5 157.8L236.9 160.2L236.6 161.4"/>
<path d="M179.8 183.8L192.1 176.4L191.5 172.2L202.3 161.1L209.4 160.8"/>
<path d="M185.5 184.7L189.1 180.8L201.1 179.0L209.1 184.7L214.5 185.0L219.0 186.5"/>
<path d="M231.0 215.2L239.9 212.2L242.0 206.2L240.5 204.1L232.8 203.6L229.8 199.7"/>
<path d="M205.0 222.1L210.0 220.0L216.0 221.2L231.0 215.2L234.2 222.1"/>
<path d="M154.4 147.4L159.2 146.5"/>
<path d="M143.4 139.9L142.5 145.6L138.3 149.5L136.8 152.4"/>
<path d="M117.4 110.9L119.8 119.6L112.0 121.7L116.8 126.4L126.3 128.5L141.9 127.3L147.3 121.1L146.1 110.6"/>
<path d="M93.5 112.4L93.5 120.2L100.0 125.5L97.9 129.7L105.4 130.0L114.4 130.0L124.8 131.5L123.4 132.4L116.5 135.7"/>
<path d="M70.1 142.3L85.1 145.3"/>
<path d="M49.2 146.5L56.1 146.8L54.6 153.3L53.4 160.8"/>
<path d="M83.0 119.3L93.5 122.3L100.0 125.5L97.9 129.7L93.5 133.9L97.9 141.1"/>
<path d="M159.2 62.8L159.2 77.7L165.2 86.7L159.2 91.2"/>
<path d="M147.3 66.7L138.3 65.8L136.8 65.2"/>
<path d="M147.3 75.3L145.8 68.7L136.8 65.2L129.3 67.3L118.9 74.7L112.0 82.2L112.9 89.7L109.9 95.6"/>
<path d="M159.2 91.2L157.7 100.1L159.2 104.6L168.2 107.6L169.7 116.0L146.1 118.1L146.1 110.6"/>
<path d="M169.7 116.0L177.2 115.7L189.1 122.6L195.1 123.7L194.5 129.1L189.7 131.2"/>
<path d="M165.2 136.3L159.8 136.0L155.0 127.9L141.9 127.3"/>
<path d="M374.7 211.3L375.9 219.7L369.9 222.7L368.5 218.2L367.6 200.3"/>
<path d="M381.0 205.0L377.4 219.7L382.5 229.6L381.6 234.6"/>
<path d="M382.5 229.6L391.8 230.2L396.8 228.7L396.5 235.2L390.9 240.6"/>
<path d="M396.8 228.7L392.4 219.7L386.4 213.7L381.0 205.0"/>
<path d="M497.0 279.8L497.0 299.2"/>
<path d="M403.1 266.0L404.3 269.0L416.3 267.8L422.3 259.1L427.0 259.4"/>
<path d="M458.1 157.5L454.2 159.0"/>
<path d="M447.1 152.7L452.1 149.5L458.1 148.0L465.9 145.0"/>
</g>
<path d="M876.6 132.4L884.1 128.5L888.5 126.1L894.5 128.5L898.1 132.1L893.0 133.0L888.5 131.5L882.6 132.4Z" fill="#a6bbde"/>
<path d="M889.1 146.5L893.6 146.5L896.9 136.6L896.0 134.5L891.5 136.0L888.5 139.0L889.4 143.5Z" fill="#a6bbde"/>
<path d="M899.0 134.5L908.0 134.5L912.4 137.5L908.0 143.5L905.0 143.5L902.0 139.0L899.6 136.3Z" fill="#a6bbde"/>
<path d="M902.6 147.7L915.4 144.4L915.4 143.2L909.5 143.8L902.6 145.6Z" fill="#a6bbde"/>
<path d="M913.0 142.9L923.8 142.0L923.8 139.9L914.5 140.8Z" fill="#a6bbde"/>
<path d="M855.7 111.2L860.1 110.9L863.7 119.6L862.2 121.4L858.6 118.1L856.3 115.1Z" fill="#a6bbde"/>
<path d="M843.7 98.6L847.3 98.0L847.3 103.1L843.7 103.1Z" fill="#a6bbde"/>
<path d="M818.3 96.5L825.8 94.2L834.7 94.5L825.8 95.6L819.8 97.1Z" fill="#a6bbde"/>
<path d="M159.2 147.7L159.2 143.5L161.3 139.6L164.3 136.6L167.6 133.0L170.6 133.3L175.7 134.5L172.7 136.3L176.3 139.3L181.0 137.8L184.6 136.6L181.6 136.3L180.7 133.6L187.6 131.2L193.0 130.9L189.7 133.9L187.0 136.6L187.6 138.4L192.1 140.5L199.0 144.1L199.9 147.7L196.6 149.5L190.6 149.7L184.6 148.6L180.4 146.5L175.1 146.5L169.1 148.9L162.5 148.9Z" fill="#d9e3f5"/>
<path d="M214.7 138.0L218.0 134.7L222.0 134.2L222.0 138.7L227.0 138.7L232.5 136.3L236.7 136.3L234.2 138.3L230.0 140.8L231.7 145.8L237.5 146.7L238.7 149.2L234.2 150.0L231.7 153.3L236.7 156.7L236.3 161.3L230.0 162.5L223.3 160.0L220.8 155.8L223.3 150.0L220.0 145.0L216.3 141.7Z" fill="#a6bbde" />
<path d="M222.0 132.5L227.0 130.8L233.3 130.3L234.2 134.2L230.0 136.3L227.5 138.3L222.5 138.7Z" fill="#384b7c" />
<path d="M252.0 135.0L254.2 133.7L255.3 136.7L254.2 140.0L252.0 138.7Z" fill="#a6bbde" />
<path d="M294.7 134.2L297.5 131.7L300.8 131.3L298.3 134.2L296.7 137.5L295.0 136.7Z" fill="#8ea8d4" />
<path d="M164.2 87.5L168.3 86.3L173.3 88.7L172.5 91.7L168.3 93.0L165.8 90.8Z" fill="#a6bbde" />
<path d="M177.5 84.2L180.8 83.0L184.2 87.5L182.5 90.0L179.7 88.3Z" fill="#a6bbde" />
<path d="M385.0 116.2L392.5 111.2L398.8 106.2L402.5 103.8L404.2 105.5L401.2 110.0L395.0 114.5L387.5 118.0Z" fill="#8ea8d4" />
<path d="M169.5 272.0L172.5 270.0L176.5 271.0L177.0 276.2L175.0 280.0L171.2 279.5L169.5 276.2Z" fill="#a6bbde" />
<path d="M162.0 283.0L164.0 282.5L165.5 290.0L166.5 297.5L164.5 297.5L163.0 291.2Z" fill="#a6bbde" />
<path d="M175.8 301.8L177.8 301.2L178.8 307.5L178.5 313.8L176.8 313.8L176.2 307.5Z" fill="#a6bbde" />
<path d="M125.3 31.7L135.0 29.5L151.7 29.7L162.0 31.3L160.0 33.0L168.3 34.7L168.3 36.3L158.3 36.3L153.7 36.7L153.0 38.3L145.8 37.5L145.0 40.0L150.8 40.3L153.7 42.5L149.2 43.7L145.8 41.7L139.2 41.7L133.3 40.0L134.2 37.5L136.7 36.3L131.7 33.7L126.7 33.3Z" fill="#2e4274" />
<ellipse cx="146.3" cy="32.3" rx="5" ry="1.5" fill="#e8edf5"/>
<ellipse cx="140.8" cy="39.0" rx="3" ry="1.1" fill="#e8edf5"/>
<path d="M166.7 31.7L178.0 31.3" fill="none" stroke="#2e4274" stroke-width="1.6" stroke-linecap="round" stroke-linejoin="round"/>
<path d="M205.8 30.3L216.7 28.3L236.7 26.7L256.7 26.0L270.0 27.0L274.2 29.2L270.0 31.3L256.7 33.0L236.7 33.7L218.3 33.0L210.0 32.0Z" fill="#2e4274" />
<path d="M263.3 43.0L270.0 41.7L278.3 40.8L283.3 42.0L280.0 44.2" fill="none" stroke="#2e4274" stroke-width="1.4" stroke-linecap="round" stroke-linejoin="round"/>
<path d="M30.2 96.7L34.4 92.0L42.2 91.1L48.9 92.4L55.0 93.6L52.2 95.6L47.8 97.2L46.7 101.1L42.2 102.8L36.7 102.2L35.0 100.6L36.7 97.8L33.3 97.6Z" fill="#50638f"  stroke="#3e5182" stroke-width="0.8"/>
<path d="M76.7 106.7L78.3 105.8L81.7 107.2L82.2 109.4L80.9 111.1L83.3 112.8L83.9 114.7L81.7 118.3L80.0 117.8L79.8 113.3L78.3 111.7L76.1 110.6Z" fill="#384b7c" />
<path d="M45.8 127.8L52.2 125.3L57.2 125.0L58.9 127.8L67.2 136.1L65.8 137.6L58.3 131.3L56.7 132.2L55.6 129.4L50.0 129.4Z" fill="#384b7c" />
<path d="M75.3 153.9L77.2 151.1L82.2 148.0L86.7 145.8L88.3 147.8L85.6 150.6L80.6 152.8L77.8 156.1L75.8 155.6Z" fill="#50638f"  stroke="#3e5182" stroke-width="0.8"/>
<path d="M93.3 143.3L97.8 139.4L103.3 138.9L108.9 144.4L100.6 149.8L96.7 146.7Z" fill="#50638f"  stroke="#3e5182" stroke-width="0.8"/>
<circle cx="102.0" cy="145.6" r="1.1" fill="#e8edf5"/>
<path d="M517.6 41.7L525.6 40.9L550.0 40.2L550.2 42.8L536.7 43.9L532.2 45.8L525.6 44.4Z" fill="#384b7c" />
<path d="M493.1 43.9L498.9 43.3L507.8 44.7L516.7 45.8L525.6 46.4L527.2 47.6L522.2 48.7L512.2 48.3L503.3 47.2L493.9 48.7L493.3 47.2L498.9 46.1Z" fill="#e8edf5" stroke="#2e4274" stroke-width="1.3" stroke-linecap="round" stroke-linejoin="round"/>
<path d="M491.7 145.0L494.2 142.5L497.5 140.0L497.0 135.8L502.5 135.3L505.0 139.2L511.3 140.0L511.7 142.5L506.7 143.3L503.3 146.3L499.2 145.0L495.8 145.8L494.7 147.5L491.7 147.5Z" fill="#f0f2f5" stroke="#2e4274" stroke-width="1.5" stroke-linecap="round" stroke-linejoin="round"/>
<path d="M498.3 164.2L504.2 162.0L505.3 163.7L502.5 167.5L501.7 175.0L503.3 182.5L506.7 187.5L504.2 192.0L500.8 186.7L498.3 178.3L497.5 170.0Z" fill="#384b7c" />
<path d="M488.7 173.3L490.8 172.5L490.5 181.7L492.0 188.7L490.0 190.3L488.0 185.0L487.5 178.3Z" fill="#384b7c" />
<path d="M494.7 201.7L498.3 199.2L503.0 202.5L502.5 206.7L498.3 208.3L495.0 205.0Z" fill="#50638f"  stroke="#3e5182" stroke-width="0.8"/>
<path d="M505.8 202.5L510.0 200.0L514.2 200.8L515.3 206.7L518.0 213.3L520.0 220.0L516.7 228.3L510.8 235.0L503.3 238.3L500.0 236.7L506.7 233.3L512.5 228.3L515.8 220.0L514.2 213.3L511.7 212.5L508.3 211.7L505.0 207.5L508.3 205.8Z" fill="#384b7c" />
<circle cx="575.0" cy="213.3" r="9.8" fill="#50638f" stroke="#3e5182" stroke-width="0.8"/>
<path d="M606.4 185.6L608.3 180.0L613.9 176.4L621.1 176.1L628.9 177.8L634.4 181.1L636.7 184.1L645.6 185.2L653.3 186.7L657.8 190.0L663.9 191.7L664.2 213.9L661.1 211.7L652.2 208.9L645.6 206.1L638.9 203.3L631.1 203.3L625.6 201.1L621.1 197.2L613.9 195.6L608.9 192.2Z" fill="#50638f"  stroke="#3e5182" stroke-width="0.8"/>
<path d="M617.8 186.3L623.3 187.2L627.8 190.6L634.4 193.3L642.2 194.4L650.0 196.7L655.6 200.0L662.2 202.2L667.8 202.6" fill="none" stroke="#384b7c" stroke-width="4.4" stroke-linecap="round" stroke-linejoin="round"/>
<circle cx="644.4" cy="221.3" r="10.8" fill="#50638f" stroke="#3e5182" stroke-width="0.8"/>
<rect x="663.1" y="249.8" width="6.7" height="6.9" fill="#50638f" stroke="#3e5182" stroke-width="0.8"/>
<rect x="620.2" y="266.1" width="6.5" height="7.0" fill="#50638f" stroke="#3e5182" stroke-width="0.8"/>
<path d="M625.3 277.8L630.0 274.2L643.9 274.2L643.9 290.6L632.8 290.6L632.8 291.3L625.3 291.3Z" fill="#384b7c" />
<path d="M662.8 270.6L665.0 266.1L668.9 265.0L673.9 266.7L677.8 270.0L680.9 274.4L679.1 280.0L675.6 282.2L671.1 282.0L666.7 279.4L663.3 275.0Z" fill="#50638f"  stroke="#3e5182" stroke-width="0.8"/>
<rect x="645.8" y="312.2" width="5.3" height="5.0" fill="#384b7c"/>
<path d="M647.2 304.4L648.9 297.8L653.3 294.4L660.0 294.4L665.6 292.2L673.3 288.9L677.8 290.6L682.2 293.9L687.8 296.7L687.2 303.3L685.0 307.8L677.8 311.1L672.8 316.7L677.8 317.8L682.2 322.2L688.3 328.9L685.0 334.4L684.4 345.6L678.9 347.2L672.2 345.6L666.7 342.2L662.8 336.7L658.9 334.4L654.4 331.1L653.3 325.6L655.6 321.1L657.8 317.8L655.6 313.3L650.0 308.9Z" fill="#50638f"  stroke="#3e5182" stroke-width="0.8"/>
<circle cx="655.6" cy="304.8" r="2.6" fill="none" stroke="#465c90" stroke-width="0.8"/>
<circle cx="669.8" cy="302.0" r="2.6" fill="none" stroke="#465c90" stroke-width="0.8"/>
<circle cx="678.9" cy="298.1" r="2.6" fill="none" stroke="#465c90" stroke-width="0.8"/>
<circle cx="663.6" cy="310.8" r="2.6" fill="none" stroke="#465c90" stroke-width="0.8"/>
<circle cx="663.6" cy="325.3" r="2.6" fill="none" stroke="#465c90" stroke-width="0.8"/>
<circle cx="673.3" cy="335.0" r="2.6" fill="none" stroke="#465c90" stroke-width="0.8"/>
<circle cx="679.1" cy="336.7" r="2.6" fill="none" stroke="#465c90" stroke-width="0.8"/>
<path d="M642.2 329.4L644.4 326.7L653.3 325.8L653.9 331.1L651.1 335.0L645.6 338.3Z" fill="#50638f"  stroke="#3e5182" stroke-width="0.8"/>
<path d="M604.4 363.3L606.7 355.6L612.2 350.0L620.0 348.3L627.2 351.1L631.1 358.9L629.4 366.7L623.9 372.8L616.7 375.0L610.0 372.8L605.6 368.3Z" fill="#50638f"  stroke="#3e5182" stroke-width="0.8"/>
<path d="M613.6 350.6L613.6 373.9" fill="none" stroke="#3f5588" stroke-width="0.7" stroke-linecap="round" stroke-linejoin="round"/>
<path d="M753.0 350.0L754.8 337.0L759.4 333.0L767.8 334.3L774.3 335.2L781.7 334.8L788.1 338.9L790.0 345.4L787.2 351.9L779.8 354.6L773.3 353.7L767.8 355.6L758.5 355.9L753.3 352.8Z" fill="#50638f"  stroke="#3e5182" stroke-width="0.8"/>
<circle cx="824.3" cy="352.4" r="11.1" fill="#50638f" stroke="#3e5182" stroke-width="0.8"/>
<circle cx="837.2" cy="350.0" r="10.2" fill="#50638f" stroke="#3e5182" stroke-width="0.8"/>
<path d="M920.0 314.8L925.2 320.0L920.0 325.2L914.8 320.0Z" fill="#50638f"  stroke="#3e5182" stroke-width="0.8"/>
<path d="M901.2 351.2L901.4 349.2L901.9 347.3L902.7 345.6L903.8 343.9L905.2 342.5L906.9 341.4L908.6 340.6L910.5 340.1L912.5 339.9L914.5 340.1L916.4 340.6L918.1 341.4L919.8 342.5L921.2 343.9L922.3 345.5L923.1 347.3L923.6 349.2L923.8 351.2L909.5 351.2L909.5 358.8L908.6 361.8L906.9 361.0L905.2 359.9L903.8 358.5L902.7 356.8L901.9 355.1L901.4 353.2L901.2 351.2Z" fill="#50638f"/>
<path d="M897.8 372.2L898.9 367.6L902.0 364.4L905.7 363.0L905.7 365.2L910.4 365.2L910.4 371.3L917.8 371.3L918.7 380.6L903.0 380.6L899.3 377.8Z" fill="#50638f"  stroke="#3e5182" stroke-width="0.8"/>
<path d="M501.1 303.3L506.7 300.0L511.1 307.2L517.8 310.6L526.7 313.3L535.6 314.4L543.3 313.3L552.2 318.3L562.8 315.0L570.0 322.8L577.8 331.7L582.2 336.1L591.1 331.1L596.1 345.6L591.1 348.3L580.0 348.9L580.0 358.3L584.4 358.3L584.4 364.4L591.7 363.3L577.8 372.2L579.4 367.8L572.2 367.2L571.1 364.4L575.0 362.8L574.4 353.9L572.2 349.4L564.4 348.9L557.8 343.9L553.3 346.7L548.9 345.6L546.7 343.3L530.0 343.9L526.7 340.6L522.2 337.2L518.9 332.8L513.3 328.3L511.1 321.7L508.9 317.2L505.0 313.9Z" fill="#50638f"  stroke="#3e5182" stroke-width="0.8"/>
<path d="M501.1 303.3L506.7 300.0L510.0 307.2L512.2 313.9L516.7 321.7L522.2 328.3L528.9 332.8L534.4 338.3L535.6 343.7L530.0 343.9L526.7 340.6L522.2 337.2L518.9 332.8L513.3 328.3L511.1 321.7L508.9 317.2L505.0 313.9Z" fill="#384b7c" />
<path d="M540.6 314.4L542.2 328.3L546.7 343.3" fill="none" stroke="#3f5588" stroke-width="0.6" stroke-linecap="round" stroke-linejoin="round"/>
<path d="M552.2 318.3L542.2 328.3" fill="none" stroke="#3f5588" stroke-width="0.6" stroke-linecap="round" stroke-linejoin="round"/>
<path d="M562.8 328.9L574.4 339.2" fill="none" stroke="#f0f3f9" stroke-width="1.5" stroke-linecap="round" stroke-linejoin="round"/>
<path d="M572.2 333.0L577.2 335.2" fill="none" stroke="#f0f3f9" stroke-width="1.2" stroke-linecap="round" stroke-linejoin="round"/>
<path d="M537.8 352.8L540.6 353.9L543.3 358.3L543.3 371.7L540.6 371.7L540.6 362.8L534.4 362.2L534.4 361.1L540.6 360.8L540.0 357.2Z" fill="#50638f"  stroke="#3e5182" stroke-width="0.8"/>
<rect x="547.5" y="357.5" width="5.8" height="18.8" fill="#50638f" stroke="#3e5182" stroke-width="0.8"/>
<path d="M573.7 350.0L580.0 350.0L580.0 358.3L583.7 358.7L583.7 364.2L592.0 363.0L577.5 372.5L579.2 368.0L571.7 367.5L571.3 364.7L574.7 363.3Z" fill="#50638f"  stroke="#3e5182" stroke-width="0.8"/>
<rect x="613.0" y="393.7" width="15.3" height="3.8" fill="#50638f" stroke="#3e5182" stroke-width="0.8"/>
<path d="M634.2 395.0 A6 8.5 0 0 1 634.2 412.0 Z" fill="#50638f"/>
<path d="M608.3 416.3L628.3 416.3L628.3 423.3L623.3 427.0L616.7 429.2L608.3 430.0Z" fill="#50638f"  stroke="#3e5182" stroke-width="0.8"/>
<path d="M558.0 405.8L573.7 405.3L573.0 408.7L558.3 409.2Z" fill="#50638f"  stroke="#3e5182" stroke-width="0.8"/>
<rect x="530.0" y="394.2" width="2.0" height="6.7" fill="#50638f" stroke="#3e5182" stroke-width="0.8"/>
<path d="M558.7 426.3L576.3 426.3L576.3 438.3L569.2 435.0Z" fill="#50638f"  stroke="#3e5182" stroke-width="0.8"/>
<path d="M549.7 432.5L561.7 431.7L566.7 435.0L563.3 440.8L556.7 445.0L549.2 445.8Z" fill="#50638f"  stroke="#3e5182" stroke-width="0.8"/>
<rect x="562.0" y="450.3" width="15.5" height="8.0" fill="#50638f" stroke="#3e5182" stroke-width="0.8"/>
<rect x="610.0" y="470.3" width="6.3" height="7.7" fill="#50638f" stroke="#3e5182" stroke-width="0.8"/>
<path d="M522.5 458.0L553.0 458.0L553.0 465.8L594.5 465.8L594.5 490.0L642.5 490.0L642.5 486.2L703.0 486.2L703.0 503.8L690.0 502.5L680.0 503.0L700.0 506.2L710.0 511.2L700.0 515.0L685.0 515.0L695.0 518.8L675.0 520.5L686.2 525.5L640.0 524.5L545.0 526.2L522.5 526.2Z" fill="#50638f"  stroke="#3e5182" stroke-width="0.8"/>
<path d="M520.0 475.0L540.0 477.0L555.0 480.0L570.0 483.8L582.5 487.5L565.0 495.0L555.0 500.0L560.0 507.5L550.0 512.5L553.8 517.0L545.0 526.2L520.0 526.2Z" fill="#f2f3f4" />
<path d="M613.0 490.0L613.0 523.8" fill="none" stroke="#3f5588" stroke-width="0.6" stroke-linecap="round" stroke-linejoin="round"/>
<path d="M642.5 490.0L642.5 498.8L661.2 498.8L661.2 495.0" fill="none" stroke="#3f5588" stroke-width="0.6" stroke-linecap="round" stroke-linejoin="round"/>
<path d="M553.0 465.8L553.0 480.0" fill="none" stroke="#3f5588" stroke-width="0.6" stroke-linecap="round" stroke-linejoin="round"/>
<path d="M462.0 254.2L465.0 245.8L471.7 239.2L479.2 236.7L481.3 243.3L485.0 255.0L480.0 260.8L472.5 266.7L464.2 265.0Z" fill="#50638f"  stroke="#3e5182" stroke-width="0.8"/>
<path d="M423.0 315.8L429.2 311.7L435.0 312.5L433.7 324.2L423.3 324.7Z" fill="#50638f"  stroke="#3e5182" stroke-width="0.8"/>
<path d="M436.7 316.7L445.0 315.8L452.5 310.8L453.3 313.3L446.7 318.3L440.0 322.5L436.7 321.7Z" fill="#50638f"  stroke="#3e5182" stroke-width="0.8"/>
<path d="M452.0 305.8L459.2 302.5L466.7 300.3L465.8 303.3L460.8 305.8L459.2 309.2L452.5 309.2Z" fill="#50638f"  stroke="#3e5182" stroke-width="0.8"/>
<path d="M404.7 333.7L415.0 333.3L415.0 340.0L404.7 338.7Z" fill="#50638f"  stroke="#3e5182" stroke-width="0.8"/>
<path d="M401.7 345.0L405.3 344.7L405.8 351.7L410.0 355.8L415.8 351.7L416.7 358.3L411.7 359.2L405.0 358.3L402.0 353.3Z" fill="#50638f"  stroke="#3e5182" stroke-width="0.8"/>
<path d="M406.7 371.7L416.7 371.7L420.0 375.0L415.0 375.8L417.5 379.2L424.2 380.8L434.2 380.0L434.2 373.0L439.7 373.0L440.0 383.3L433.3 385.8L423.3 386.7L415.0 384.2L409.2 379.2Z" fill="#50638f"  stroke="#3e5182" stroke-width="0.8"/>
<path d="M460.3 365.8L469.2 365.3L468.3 368.3L466.7 370.0L468.3 375.0L468.0 381.3L465.8 380.0L464.2 373.3L463.7 368.7L460.8 367.5Z" fill="#50638f"  stroke="#3e5182" stroke-width="0.8"/>
<path d="M472.5 368.3L476.7 370.0L478.0 375.0L480.0 379.2L477.5 381.7L478.3 388.3L475.0 386.7L474.7 380.0L473.3 373.3Z" fill="#50638f"  stroke="#3e5182" stroke-width="0.8"/>
<path d="M505.0 401.3L512.5 400.8L511.7 405.0L509.2 406.7L508.7 411.7L505.3 411.3Z" fill="#50638f"  stroke="#3e5182" stroke-width="0.8"/>
<path d="M518.3 396.7L532.0 394.2L532.0 400.8Z" fill="#50638f"  stroke="#3e5182" stroke-width="0.8"/>
<path d="M203.9 295.2L225.0 295.0L225.3 303.9L222.8 302.8L219.1 307.8L213.9 311.7L210.6 314.4L205.6 314.4L206.7 310.6L211.7 304.4Z" fill="#40558a" />
<path d="M231.7 295.0L232.0 288.9L234.4 285.0L238.9 282.2L242.2 281.9L245.0 284.4L247.2 287.8L247.2 295.0Z" fill="#50638f"  stroke="#3e5182" stroke-width="0.8"/>
<path d="M278.3 288.9L281.1 281.7L285.0 278.1L292.2 279.2L299.4 281.1L301.1 287.2L302.0 293.9L299.4 299.4L294.4 302.8L290.0 303.7L284.4 301.1L280.0 296.7Z" fill="#50638f"  stroke="#3e5182" stroke-width="0.8"/>
<path d="M187.5 411.3L178.0 402.7" fill="none" stroke="#50638f" stroke-width="4.6" stroke-linecap="butt" stroke-linejoin="round"/>
<path d="M187.5 411.3L203.0 407.7" fill="none" stroke="#50638f" stroke-width="4.6" stroke-linecap="butt" stroke-linejoin="round"/>
<path d="M187.5 411.3L178.3 420.0" fill="none" stroke="#50638f" stroke-width="4.6" stroke-linecap="butt" stroke-linejoin="round"/>
<circle cx="187.5" cy="411.3" r="2.3" fill="#50638f" stroke="#3e5182" stroke-width="0.8"/>
<ellipse cx="228.3" cy="409.7" rx="18.0" ry="11.3" fill="#50638f" stroke="#3e5182" stroke-width="0.8"/>
<path d="M218.3 410.8L223.3 404.2L233.3 402.5L238.3 408.3L235.8 415.0L226.7 418.3L220.8 415.8Z" fill="#465c90" />
<path d="M263.3 420.0L266.7 412.5L275.0 407.5L285.0 406.3L295.0 410.0L300.8 416.7L301.7 420.0L310.8 425.0L308.3 426.7L300.0 425.8L296.7 423.3L295.8 430.8L291.7 430.8L288.3 425.8L283.3 427.5L276.7 430.3L268.3 428.3L264.2 424.2Z" fill="#40568a" />
<circle cx="307.0" cy="385.8" r="13.0" fill="#50638f" stroke="#3e5182" stroke-width="0.8"/>
<circle cx="307.0" cy="385.8" r="1.7" fill="#384b7c"/>
<circle cx="32.0" cy="295.0" r="10.5" fill="#50638f" stroke="#3e5182" stroke-width="0.8"/>
<circle cx="32.0" cy="295.0" r="0.8" fill="#384b7c"/>
<circle cx="37.2" cy="383.0" r="13.0" fill="#50638f" stroke="#3e5182" stroke-width="0.8"/>
<circle cx="45.6" cy="391.5" r="13.0" fill="#50638f" stroke="#3e5182" stroke-width="0.8"/>
<ellipse cx="37.8" cy="382.8" rx="3.4" ry="2.7" fill="#e9eef8"/>
<ellipse cx="45.0" cy="392.0" rx="2.7" ry="2.2" fill="#e9eef8"/>
<ellipse cx="1040.6" cy="433.9" rx="21.0" ry="11.7" fill="#50638f" stroke="#3e5182" stroke-width="0.8"/>
<ellipse cx="1071.0" cy="444.3" rx="21.0" ry="14.3" fill="#50638f" stroke="#3e5182" stroke-width="0.8"/>
<ellipse cx="-5.0" cy="444.3" rx="21.0" ry="14.3" fill="#50638f" stroke="#3e5182" stroke-width="0.8"/>
<path d="M1007.8 455.0L1013.9 455.0L1013.9 456.7L1020.0 456.7L1020.0 455.0L1028.9 455.0L1028.9 462.8L1007.8 462.8Z" fill="#50638f"  stroke="#3e5182" stroke-width="0.8"/>
<path d="M928.8 443.8L933.8 436.2L940.0 438.8L946.2 440.0L950.0 439.5L950.0 450.0L940.0 449.5L932.5 447.0Z" fill="#50638f"  stroke="#3e5182" stroke-width="0.8"/>
<rect x="950.0" y="436.2" width="10.0" height="9.2" fill="#384b7c"/>
<circle cx="1063.7" cy="268.4" r="10.2" fill="#50638f" stroke="#3e5182" stroke-width="0.8"/>
<ellipse cx="1064.4" cy="332.5" rx="11.9" ry="10.6" fill="#50638f" stroke="#3e5182" stroke-width="0.8"/>
<path d="M799.1 216.1L806.1 215.6L806.4 211.7L821.7 211.4L822.2 208.1L828.9 207.8L829.1 215.0L823.3 215.6L823.1 221.1L826.1 221.1L825.6 223.9L821.1 225.6L815.8 225.0L815.6 218.9L808.9 218.9L808.7 222.8L799.4 222.8Z" fill="#50638f"  stroke="#3e5182" stroke-width="0.8"/>
<rect x="833.3" y="209.4" width="2.0" height="3.9" fill="#50638f" stroke="#3e5182" stroke-width="0.8"/>
<path d="M835.3 217.2L837.8 216.7L838.9 215.0L843.3 217.2L852.2 221.7L862.2 225.0L861.1 226.7L857.8 226.1L858.0 228.9L856.1 228.9L855.8 225.6L847.8 222.2L842.2 220.0L841.7 221.7L838.9 222.2L839.4 225.6L837.8 226.3L835.6 224.1Z" fill="#384b7c" />
<path d="M860.0 232.2L866.7 225.0L873.9 230.0L869.1 235.6Z" fill="#50638f"  stroke="#3e5182" stroke-width="0.8"/>
<path d="M890.6 208.9L893.9 207.2L894.2 215.6L896.1 216.1L894.4 218.1L889.4 217.8L888.9 215.6L890.6 212.8Z" fill="#384b7c" />
<rect x="884.4" y="251.9" width="10.0" height="12.6" fill="#50638f" stroke="#3e5182" stroke-width="0.8"/>
<path d="M884.4 260.6L878.9 262.8L875.0 263.9L873.1 266.7L873.9 271.7L876.7 275.6L882.2 277.8L885.8 275.0L886.1 271.7L883.3 268.9L880.0 267.8L882.2 265.6L886.7 264.4Z" fill="#384b7c" />
<path d="M906.1 227.0L912.8 227.0L912.8 232.2L909.8 232.2L909.8 235.6L906.1 235.6Z" fill="#384b7c" />
<path d="M899.4 255.9L901.1 252.2L911.7 251.9L911.7 256.3Z" fill="#50638f"  stroke="#3e5182" stroke-width="0.8"/>
<path d="M962.8 224.1L967.8 220.6L975.6 216.1L978.9 217.2L979.8 222.8L972.2 228.9L963.3 229.4L967.8 226.1Z" fill="#50638f"  stroke="#3e5182" stroke-width="0.8"/>
<path d="M964.2 227.2L978.9 222.2" fill="none" stroke="#c9d5ea" stroke-width="0.6" stroke-linecap="round" stroke-linejoin="round"/>
<path d="M961.1 217.2L965.6 216.7L963.9 218.6Z" fill="#384b7c" />
<path d="M1026.1 112.8L1034.4 112.8L1039.4 118.7L1040.9 118.3L1040.6 106.7L1055.8 106.7L1055.8 111.1L1070.9 111.1L1070.9 125.0L1055.8 124.7L1055.8 131.1L1032.2 146.1L1026.1 140.0L1026.1 135.0L1029.4 131.7L1028.7 127.8L1026.4 125.6Z" fill="#50638f"  stroke="#3e5182" stroke-width="0.8"/>
<rect x="1054.7" y="137.8" width="22.6" height="4.2" fill="#50638f" stroke="#3e5182" stroke-width="0.8"/>
<path d="M1057.2 167.2L1060.6 166.7L1062.8 170.6L1066.7 168.3L1067.2 165.6L1071.1 165.6L1070.6 170.0L1069.4 172.8L1070.9 176.1L1068.3 178.9L1067.2 184.2L1063.9 184.2L1064.4 179.4L1065.3 175.6L1064.4 173.1L1060.6 172.8L1058.3 170.6Z" fill="#50638f"  stroke="#3e5182" stroke-width="0.8"/>
<path d="M822.0 20.0L835.0 17.5L860.0 15.3L893.3 13.7L926.7 13.0L960.0 13.0L974.2 13.3L978.3 16.7L982.5 20.0L980.0 23.3L968.3 24.7L948.3 29.2L941.7 29.7L948.3 26.7L960.0 24.7L943.3 23.3L926.7 24.2L913.3 25.0L903.3 24.7L893.3 25.8L883.3 26.7L876.7 27.5L866.7 29.2L856.7 30.8L848.3 31.7L835.0 34.2L833.3 35.8L822.0 35.8Z" fill="#50638f"  stroke="#3e5182" stroke-width="0.8"/>
<path d="M876.7 27.5L886.7 26.7L896.7 29.2L910.0 28.3L921.7 29.2L922.5 30.8L911.7 33.3L903.3 31.7L890.0 31.7L881.7 30.0Z" fill="#50638f"  stroke="#3e5182" stroke-width="0.8"/>
<path d="M863.7 48.3L873.3 47.5L885.0 48.7L900.0 48.3L908.3 46.7L907.5 44.2L916.7 42.5L919.2 45.8L926.7 48.3L931.7 52.5L934.2 57.5L930.0 59.2L925.0 55.8L918.3 55.0L910.0 55.8L908.3 53.3L900.0 51.7L898.3 55.8L896.7 59.2L892.5 59.2L893.3 53.3L888.3 50.8L876.7 50.3L865.0 50.0Z" fill="#465c90" />
</g>
</g>
<circle cx="113.7" cy="84.2" r="21.6" fill="#cb6702" stroke="#2a1804" stroke-width="1.2"/>
<circle cx="44" cy="150.7" r="21.6" fill="#cb6702" stroke="#2a1804" stroke-width="1.2"/>
<circle cx="166" cy="140.7" r="21.6" fill="#cb6702" stroke="#2a1804" stroke-width="1.2"/>
<circle cx="111.2" cy="183.7" r="21.6" fill="#cb6702" stroke="#2a1804" stroke-width="1.2"/>
<circle cx="161.5" cy="346" r="21.6" fill="#cb6702" stroke="#2a1804" stroke-width="1.2"/>
<circle cx="400" cy="260.5" r="21.6" fill="#cb6702" stroke="#2a1804" stroke-width="1.2"/>
<circle cx="552.5" cy="209.5" r="21.6" fill="#cb6702" stroke="#2a1804" stroke-width="1.2"/>
<circle cx="499.5" cy="459.5" r="21.6" fill="#cb6702" stroke="#2a1804" stroke-width="1.2"/>
<circle cx="806.2" cy="87" r="21.6" fill="#cb6702" stroke="#2a1804" stroke-width="1.2"/>
<path d="M806.2 87L827.8 87L827.8 88.2Z" fill="#1c1208" stroke="#1c1208" stroke-width="1" stroke-linejoin="round"/>
<circle cx="876.2" cy="152.5" r="21.6" fill="#cb6702" stroke="#2a1804" stroke-width="1.2"/>
<path d="M876.2 152.5L897.8 152.5L897.8 153Z" fill="#1c1208" stroke="#1c1208" stroke-width="1" stroke-linejoin="round"/>
<circle cx="997.3" cy="99.3" r="21.6" fill="#cb6702" stroke="#2a1804" stroke-width="1.2"/>
<path d="M997.3 99.3L1018.9 99.3L1018.8 101Z" fill="#fff" stroke="#1c1208" stroke-width="1" stroke-linejoin="round"/>
<circle cx="787.3" cy="260.5" r="21.6" fill="#cb6702" stroke="#2a1804" stroke-width="1.2"/><path d="M787.3 260.5L808.9 260.5A21.6 21.6 0 0 1 804.2 273.9Z" fill="#fff" stroke="#2a1804" stroke-width="1.2" stroke-linejoin="round"/>
<circle cx="1001.2" cy="285" r="21.6" fill="#cb6702" stroke="#2a1804" stroke-width="1.2"/>
<path d="M1001.2 285L1022.8 285L1022.8 286Z" fill="#1c1208" stroke="#1c1208" stroke-width="1" stroke-linejoin="round"/>
<text class="ml" x="118.3" y="120.7">FRANCE*</text>
<text class="ml" x="118.5" y="138">100%</text>
<text class="ml" x="170" y="180">GREECE</text>
<text class="ml" x="170.3" y="197.5">100%</text>
<text class="ml" x="44.6" y="188">PORTUGAL</text>
<text class="ml" x="44.7" y="205.5">100%</text>
<text class="ml" x="115" y="221">MEDITERRANEAN*</text>
<text class="ml" x="115.7" y="239">100%</text>
<text class="ml" x="165.8" y="383">SOUTH AFRICA</text>
<text class="ml" x="166.2" y="400.7">100%</text>
<text class="ml" x="399.8" y="298">INDONESIA</text>
<text class="ml" x="400.6" y="315">100%</text>
<text class="ml" x="559.7" y="250">MARIANA ISLANDS</text>
<text class="ml" x="560.2" y="267.5">100%</text>
<text class="ml" x="500.6" y="499.2">CCAMLR</text>
<text class="ml" x="500.5" y="516">100%</text>
<text class="ml" x="806.2" y="124.6">CANADA</text>
<text class="ml" x="806.2" y="141.6">92.2%</text>
<text class="ml" x="877.7" y="190">UNITED STATES</text>
<text class="ml" x="877.8" y="207">99.7%</text>
<text class="ml" x="997" y="136.1">OSPAR*</text>
<text class="ml" x="997.1" y="153.4">98.4%</text>
<text class="ml" x="784.6" y="298.2">LARGEST GLOBAL MPAs</text>
<text class="ml" x="784" y="315">89.2%</text>
<text class="ml" x="1001.2" y="322">BRAZIL</text>
<text class="ml" x="1001.6" y="339">99.1%</text>
<text x="18" y="36.5" style="font-family:'DejaVu Sans Condensed','Liberation Sans',sans-serif;font-weight:700;font-size:28px;fill:#2b3d6f">A</text>
<text x="18.5" y="580" style="font-family:'DejaVu Sans Condensed','Liberation Sans',sans-serif;font-weight:700;font-size:27px;fill:#2b3d6f">B</text>
<text x="577" y="581" style="font-family:'DejaVu Sans Condensed','Liberation Sans',sans-serif;font-weight:700;font-size:27px;fill:#2b3d6f">C</text>
<line x1="172" y1="557.2" x2="172" y2="1067.8" stroke="#d6d6d6" stroke-width="1.4"/>
<line x1="224.2" y1="557.2" x2="224.2" y2="1067.8" stroke="#d6d6d6" stroke-width="1.4"/>
<line x1="276.4" y1="557.2" x2="276.4" y2="1067.8" stroke="#d6d6d6" stroke-width="1.4"/>
<line x1="328.6" y1="557.2" x2="328.6" y2="1067.8" stroke="#d6d6d6" stroke-width="1.4"/>
<line x1="380.8" y1="557.2" x2="380.8" y2="1067.8" stroke="#d6d6d6" stroke-width="1.4"/>
<line x1="433" y1="557.2" x2="433" y2="1067.8" stroke="#d6d6d6" stroke-width="1.4"/>
<line x1="485.2" y1="557.2" x2="485.2" y2="1067.8" stroke="#d6d6d6" stroke-width="1.4"/>
<line x1="537.4" y1="557.2" x2="537.4" y2="1067.8" stroke="#d6d6d6" stroke-width="1.4"/>
<rect x="172.5" y="565" width="364.9" height="25.4" fill="#d7d7d7"/>
<rect x="172.5" y="565" width="139" height="25.4" fill="#c76400"/>
<text class="cl" x="158" y="584.6" font-size="15.6" text-anchor="end" textLength="54" lengthAdjust="spacingAndGlyphs">BRASIL</text>
<rect x="172.5" y="607.7" width="364.9" height="25.4" fill="#d7d7d7"/>
<rect x="172.5" y="607.7" width="46" height="25.4" fill="#c76400"/>
<text class="cl" x="157" y="627.1" font-size="15.6" text-anchor="end" textLength="67" lengthAdjust="spacingAndGlyphs">CANADÁ</text>
<rect x="172.5" y="650.4" width="364.9" height="25.4" fill="#d7d7d7"/>
<rect x="172.5" y="650.4" width="29.4" height="25.4" fill="#c76400"/>
<text class="cl" x="157.5" y="669.6" font-size="15.6" text-anchor="end" textLength="61" lengthAdjust="spacingAndGlyphs">CCAMLR</text>
<rect x="172.5" y="693" width="364.9" height="25.4" fill="#d7d7d7"/>
<rect x="172.5" y="693" width="258.6" height="25.4" fill="#c76400"/>
<text class="cl" x="159" y="712.1" font-size="15.6" text-anchor="end" textLength="72" lengthAdjust="spacingAndGlyphs">FRANÇA*</text>
<rect x="172.5" y="735.7" width="364.9" height="25.4" fill="#d7d7d7"/>
<rect x="172.5" y="735.7" width="22.7" height="25.4" fill="#c76400"/>
<text class="cl" x="159" y="754.6" font-size="15.6" text-anchor="end" textLength="57" lengthAdjust="spacingAndGlyphs">GRÉCIA</text>
<rect x="172.5" y="778.4" width="364.9" height="25.4" fill="#d7d7d7"/>
<rect x="172.5" y="778.4" width="14.9" height="25.4" fill="#c76400"/>
<text class="cl" x="157.5" y="797.1" font-size="15.6" text-anchor="end" textLength="80" lengthAdjust="spacingAndGlyphs">INDONESIA</text>
<rect x="172.5" y="821.1" width="364.9" height="25.4" fill="#d7d7d7"/>
<rect x="172.5" y="821.1" width="136" height="25.4" fill="#c76400"/>
<text class="cl" x="159.5" y="839.6" font-size="15.6" text-anchor="end" textLength="136" lengthAdjust="spacingAndGlyphs">ILHAS MARIANAS</text>
<rect x="172.5" y="863.8" width="364.9" height="25.4" fill="#d7d7d7"/>
<rect x="172.5" y="863.8" width="30.5" height="25.4" fill="#c76400"/>
<text class="cl" x="159.5" y="882.1" font-size="15.6" text-anchor="end" textLength="134" lengthAdjust="spacingAndGlyphs">MEDITERRÂNEO*</text>
<rect x="172.5" y="906.4" width="364.9" height="25.4" fill="#d7d7d7"/>
<rect x="172.5" y="906.4" width="37.5" height="25.4" fill="#c76400"/>
<text class="cl" x="158" y="924.6" font-size="15.6" text-anchor="end" textLength="57" lengthAdjust="spacingAndGlyphs">OSPAR*</text>
<rect x="172.5" y="949.1" width="364.9" height="25.4" fill="#d7d7d7"/>
<rect x="172.5" y="949.1" width="86.8" height="25.4" fill="#c76400"/>
<text class="cl" x="157.5" y="967.1" font-size="15.6" text-anchor="end" textLength="82" lengthAdjust="spacingAndGlyphs">PORTUGAL</text>
<rect x="172.5" y="991.8" width="364.9" height="25.4" fill="#d7d7d7"/>
<rect x="172.5" y="991.8" width="79.4" height="25.4" fill="#c76400"/>
<text class="cl" x="159.5" y="1009.6" font-size="15.6" text-anchor="end" textLength="119" lengthAdjust="spacingAndGlyphs">ÁFRICA DO SUL</text>
<rect x="172.5" y="1034.5" width="364.9" height="25.4" fill="#d7d7d7"/>
<rect x="172.5" y="1034.5" width="136.8" height="25.4" fill="#c76400"/>
<text class="cl" x="159.5" y="1052.1" font-size="15.6" text-anchor="end" textLength="138" lengthAdjust="spacingAndGlyphs">ESTADOS UNIDOS</text>
<line x1="329.5" y1="557" x2="329.5" y2="1069.4" stroke="#1f5cb0" stroke-width="2.3" stroke-dasharray="8.3 6.6" stroke-dashoffset="2.7"/>
<text class="cl" x="172" y="1093.8" font-size="14" text-anchor="middle" style="fill:#1f60ad">0</text>
<text class="cl" x="224.2" y="1093.8" font-size="14" text-anchor="middle" style="fill:#1f60ad">10</text>
<text class="cl" x="276.4" y="1093.8" font-size="14" text-anchor="middle" style="fill:#1f60ad">20</text>
<text class="cl" x="328.6" y="1093.8" font-size="14" text-anchor="middle" style="fill:#1f60ad">30</text>
<text class="cl" x="380.8" y="1093.8" font-size="14" text-anchor="middle" style="fill:#1f60ad">40</text>
<text class="cl" x="433" y="1093.8" font-size="14" text-anchor="middle" style="fill:#1f60ad">50</text>
<text class="cl" x="485.2" y="1093.8" font-size="14" text-anchor="middle" style="fill:#1f60ad">60</text>
<text class="cl" x="537.4" y="1093.8" font-size="14" text-anchor="middle" style="fill:#1f60ad">70</text>
<rect x="212" y="1115.7" width="9.5" height="9.5" fill="#c76400"/>
<text class="cl" x="231" y="1125" font-size="13.6" textLength="174" lengthAdjust="spacingAndGlyphs">COBERTURA DE AMP (%)</text>
<circle cx="814.7" cy="672.5" r="121" fill="#c76400" stroke="#2a2a2a" stroke-width="1"/><path d="M814.7 672.5L755.5 567A121 121 0 0 1 814.7 551.5Z" fill="#fff" stroke="#1a1a1a" stroke-width="1.2" stroke-linejoin="round"/>
<circle cx="814.7" cy="970.2" r="121.3" fill="#fff" stroke="#2a2a2a" stroke-width="1"/><path d="M814.7 970.2L814.7 848.9A121.3 121.3 0 0 1 848.9 853.8Z" fill="#c76400" stroke="#1a1a1a" stroke-width="1.2" stroke-linejoin="round"/>
<text class="cl" x="789.7" y="579.2" font-size="14.2" text-anchor="middle" style="fill:#1f60ad">8%</text>
<text class="cl" x="849.8" y="766.2" font-size="14.2" text-anchor="middle" style="fill:#fff">92%</text>
<text class="cl" x="829.6" y="871.2" font-size="14.2" text-anchor="middle" style="fill:#fff">5%</text>
<text class="cl" x="788.2" y="1064.9" font-size="14.2" text-anchor="middle" style="fill:#1f60ad">95%</text>
<text class="cl" x="594.7" y="825" font-size="15.6" textLength="455" lengthAdjust="spacingAndGlyphs">PORCENTAGEM DE AMPS GLOBAIS AVALIADAS - POR ÁREA</text>
<text class="cl" x="568.2" y="1128.5" font-size="15.6" textLength="485" lengthAdjust="spacingAndGlyphs">PORCENTAGEM DE AMPS GLOBAIS AVALIADAS - POR NÚMERO</text>
</svg></body></html>
